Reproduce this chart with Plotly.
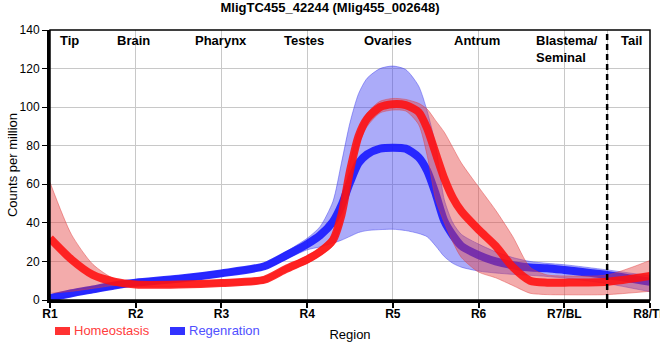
import plotly.graph_objects as go

# ---- data ----
x_pos = [1.0, 1.25, 1.5, 1.75, 2.0, 2.5, 3.0, 3.5, 3.75, 4.0, 4.15, 4.3, 4.4, 4.5, 4.6, 4.7, 4.85,
         5.0, 5.15, 5.3, 5.4, 5.5, 5.6, 5.7, 5.8, 6.0, 6.2, 6.4, 6.6, 6.8, 7.0, 7.5, 8.0]

homeo_mean = [32, 21, 13, 9.5, 8, 8, 8.8, 10.5, 16, 21, 25, 31, 44, 67, 85, 94, 100,
              101.5, 101, 97.5, 89, 76, 63, 53, 46, 36.5, 28, 17, 10, 9, 9, 9.5, 12.5]
homeo_upper = [61, 34, 18.5, 11, 9.5, 9.5, 10.3, 12, 17.5, 23, 27, 34, 47, 71, 88, 97, 103,
               104.5, 104, 102, 99, 93, 87, 79, 71, 58.6, 46.5, 32.8, 17, 13, 12.5, 13, 20.5]
homeo_lower = [3.5, 4.5, 6, 7.5, 6.8, 6.8, 7.5, 9, 14.5, 19, 23, 28, 40, 62, 80, 90, 97,
               98.5, 98, 91, 75, 52, 40, 30, 22, 14.5, 11.5, 7.5, 3.5, 2.8, 2.7, 2.8, 4.5]

regen_mean = [1, 3.5, 5.5, 7.5, 9, 11, 13.8, 17.5, 23, 29, 33.5, 40.5, 49, 61, 71, 75.5, 78.5,
              79, 78.5, 74, 67, 55, 41, 33.5, 28, 23.3, 20, 18, 16.8, 16.5, 15.6, 13, 9.5]
regen_upper = [2.5, 5, 7, 9, 10.5, 12.5, 15.3, 19, 25, 32, 38, 51, 71, 92, 107, 115, 120,
               121.3, 119.5, 111, 98, 80, 52, 40, 34, 29, 25, 22, 20, 19, 18.3, 15.6, 12.5]
regen_lower = [0, 2, 4, 6, 7.5, 9.5, 12.3, 16, 21, 26, 27.5, 29.5, 31, 33, 35, 36, 36.5,
               36.7, 36, 34.5, 32.8, 28, 22.5, 19, 17, 15, 14, 13.3, 12.8, 12.2, 11.4, 8.5, 4.3]

tick_vals = [1, 2, 3, 4, 5, 6, 7, 8, 7.5]
tick_text = ["R1", "R2", "R3", "R4", "R5", "R6", "R7/BL", "R8/TL", ""]

region_names = ["Tip", "Brain", "Pharynx", "Testes", "Ovaries", "Antrum", "Blastema/<br>Seminal", "Tail"]
region_x = [1.23, 1.97, 2.99, 3.96, 4.94, 5.98, 6.65, 7.78]

boundary_x = 7.5
title_text = "MligTC455_42244 (Mlig455_002648)"

FONT = "Liberation Sans, Arial, sans-serif"
SPL = dict(shape="spline", smoothing=0.7)

fig = go.Figure()

# Regeneration band + line
fig.add_trace(go.Scatter(x=x_pos, y=regen_lower, mode="lines", line=dict(color="rgba(60,60,235,0.45)", width=1, **SPL),
                         showlegend=False, hoverinfo="skip"))
fig.add_trace(go.Scatter(x=x_pos, y=regen_upper, mode="lines", fill="tonexty", fillcolor="rgba(60,60,240,0.43)",
                         line=dict(color="rgba(60,60,235,0.45)", width=1, **SPL),
                         showlegend=False, hoverinfo="skip"))
fig.add_trace(go.Scatter(x=x_pos, y=regen_mean, mode="lines", name="Regenration",
                         line=dict(color="rgba(20,20,255,0.88)", width=8, **SPL)))

# Homeostasis band + line
fig.add_trace(go.Scatter(x=x_pos, y=homeo_lower, mode="lines", line=dict(color="rgba(225,60,60,0.45)", width=1, **SPL),
                         showlegend=False, hoverinfo="skip"))
fig.add_trace(go.Scatter(x=x_pos, y=homeo_upper, mode="lines", fill="tonexty", fillcolor="rgba(228,60,60,0.43)",
                         line=dict(color="rgba(225,60,60,0.45)", width=1, **SPL),
                         showlegend=False, hoverinfo="skip"))
fig.add_trace(go.Scatter(x=x_pos, y=homeo_mean, mode="lines", name="Homeostasis",
                         line=dict(color="rgba(255,15,15,0.88)", width=8, **SPL)))

# region labels
for name, xv in zip(region_names, region_x):
    left = "Blastema" in name
    fig.add_annotation(x=xv, xref="x", y=1, yref="paper", yanchor="top", yshift=-1,
                       xanchor="left" if left else "center", align="left",
                       text="<b>" + name + "</b>", showarrow=False,
                       font=dict(family=FONT, size=13, color="black"))

shapes = []
# dashed boundary
shapes.append(dict(type="line", xref="x", yref="paper", x0=boundary_x, x1=boundary_x, y0=0, y1=1,
                   line=dict(color="black", width=2.5, dash="6px,4px"), layer="above"))
# frame
shapes.append(dict(type="rect", xref="paper", yref="paper", x0=0, x1=1, y0=0, y1=1,
                   line=dict(color="black", width=1.5), layer="above"))

# manual legend
W, H = 600.0, 270.0
def px2paper(px, py):
    return (px - 50) / W, (300 - py) / H

leg = [("Homeostasis", "rgb(255,50,50)", "rgb(255,60,60)", 55),
       ("Regenration", "rgb(50,50,255)", "rgb(80,80,255)", 170)]
for name, sw, tc, px in leg:
    x0, y0 = px2paper(px, 335)
    x1, y1 = px2paper(px + 15, 327)
    shapes.append(dict(type="rect", xref="paper", yref="paper", x0=x0, x1=x1, y0=y0, y1=y1,
                       line=dict(width=0), fillcolor=sw))
    tx, ty = px2paper(px + 18, 331)
    fig.add_annotation(x=tx, y=ty, xref="paper", yref="paper", xanchor="left", yanchor="middle",
                       text=name, showarrow=False, borderpad=0,
                       font=dict(family=FONT, size=13, color=tc))

fig.update_layout(
    width=660, height=360,
    margin=dict(l=50, r=10, t=30, b=60, autoexpand=False),
    paper_bgcolor="white", plot_bgcolor="white",
    showlegend=False,
    title=dict(text="<b>" + title_text + "</b>", x=0.5, xanchor="center", y=0.993, yanchor="top",
               font=dict(family=FONT, size=13, color="black")),
    font=dict(family=FONT, size=12, color="black"),
    shapes=shapes,
    xaxis=dict(range=[1, 8], tickvals=tick_vals, ticktext=tick_text, automargin=False,
               ticklabeloverflow="allow", ticklabelstandoff=-4,
               tickfont=dict(family=FONT, size=12, color="black", weight="bold"),
               showgrid=True, gridcolor="#c8c8c8", gridwidth=1, zeroline=False,
               showline=True, linecolor="black", linewidth=3,
               ticks="outside", ticklen=5, tickwidth=2, tickcolor="black",
               title=dict(text="Region", standoff=10, font=dict(family=FONT, size=13, color="black"))),
    yaxis=dict(range=[0, 140], tickvals=[0, 20, 40, 60, 80, 100, 120, 140], automargin=False,
               tickfont=dict(family=FONT, size=12, color="black"),
               showgrid=True, gridcolor="#c8c8c8", gridwidth=1, zeroline=False,
               showline=True, linecolor="black", linewidth=3,
               ticks="outside", ticklen=5, tickwidth=1, tickcolor="black",
               title=dict(text="Counts per million", standoff=0, font=dict(family=FONT, size=13, color="black"))),
)

fig.write_html("out.html", config={"displayModeBar": False},
               post_script="document.body.style.margin='0';document.body.style.padding='0';")
